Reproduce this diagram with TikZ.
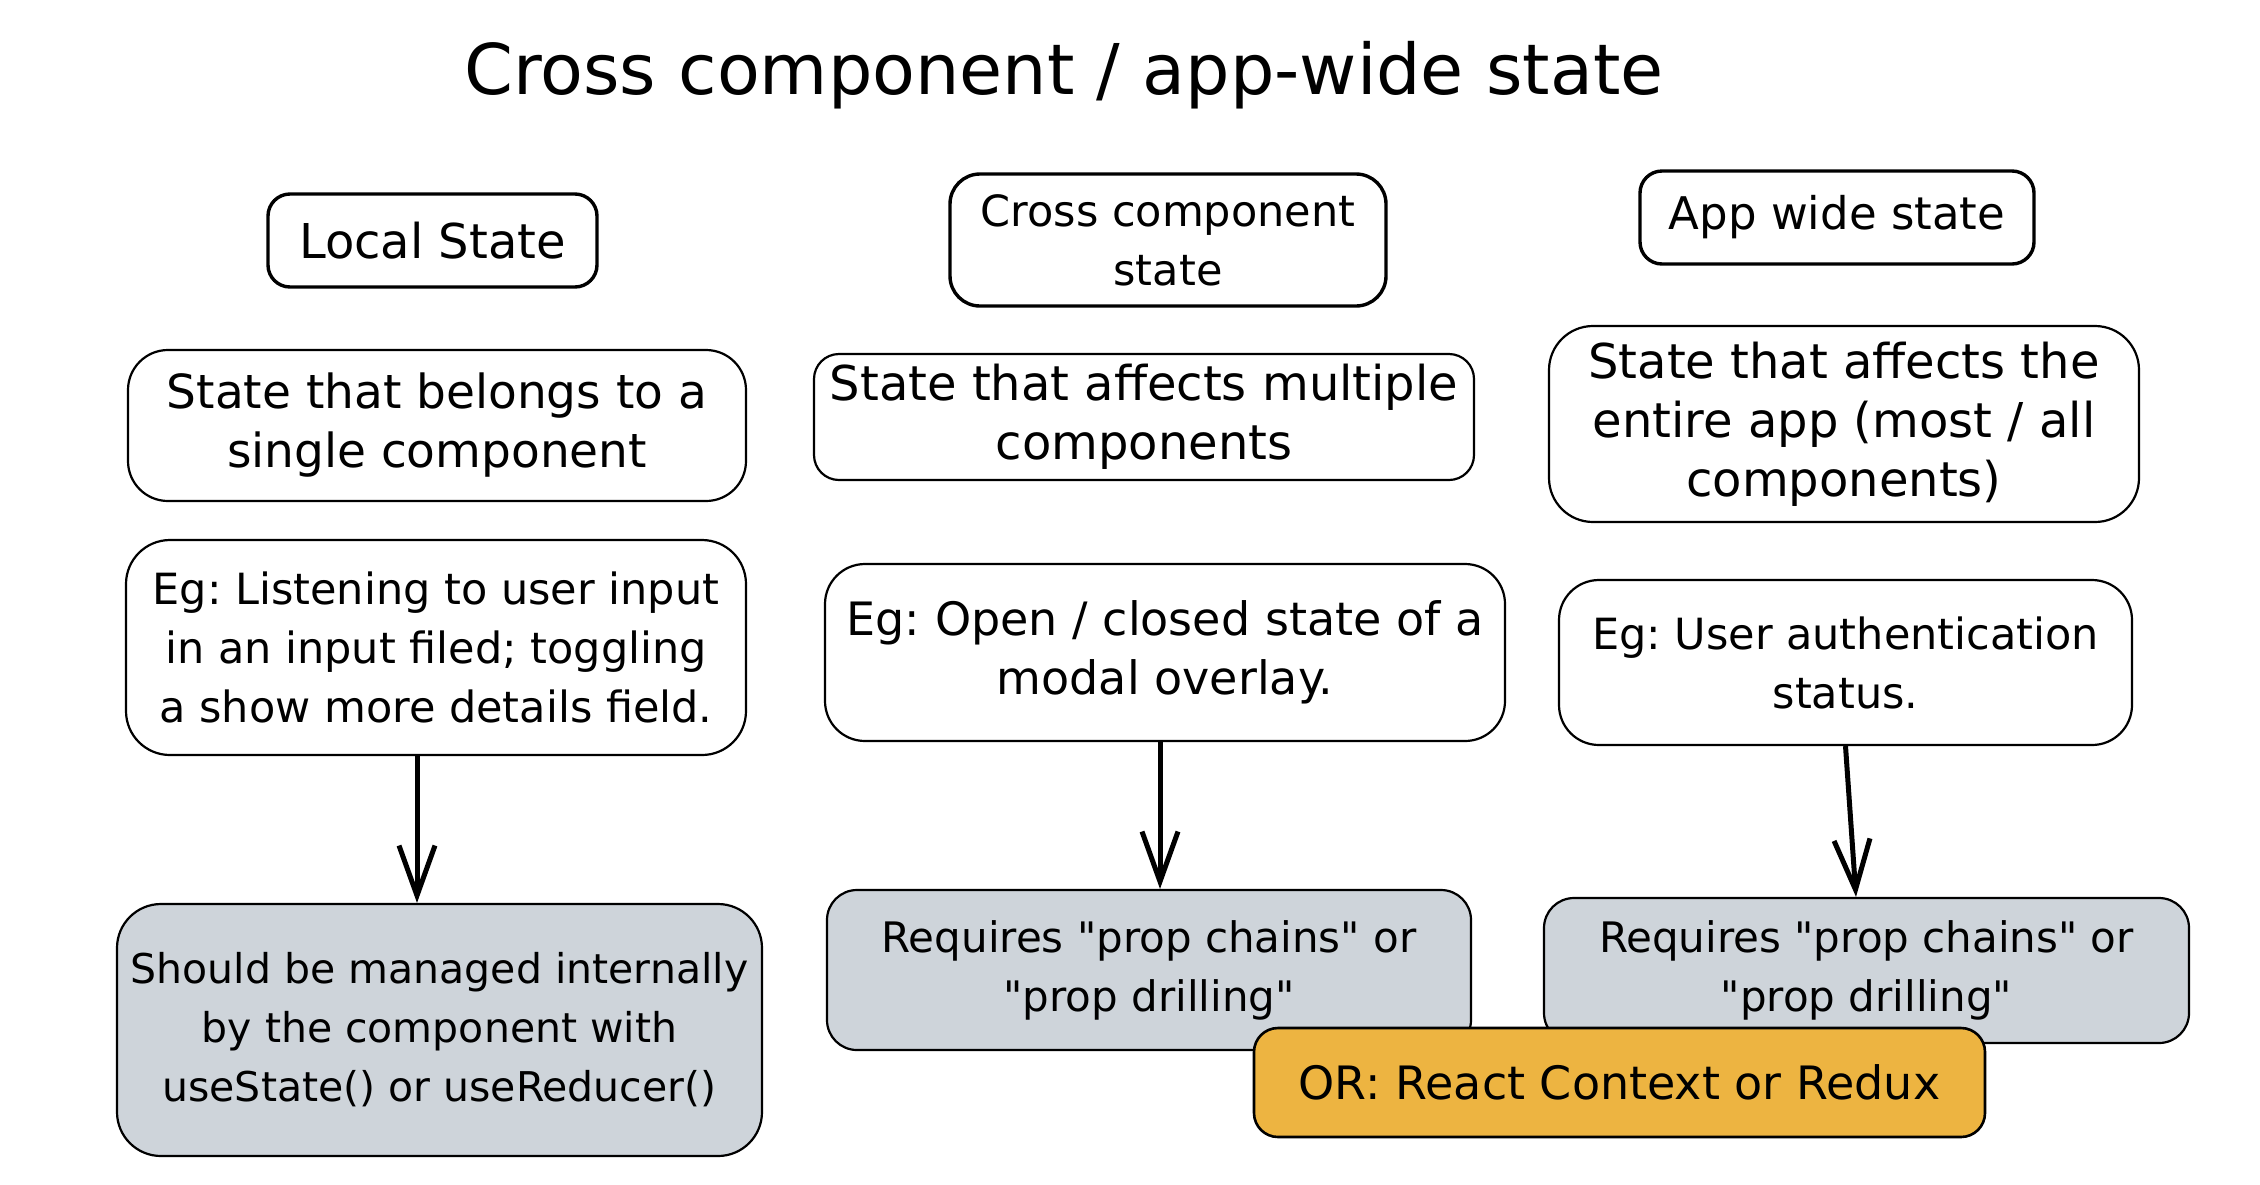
\documentclass[tikz,border=0pt]{standalone}
\usepackage{fontspec}
\setmainfont{DejaVu Sans}
\usetikzlibrary{arrows.meta}
\definecolor{boxgray}{HTML}{CED4DA}
\definecolor{boxorange}{HTML}{EDB441}
\newcommand{\qq}{\textquotedbl}
\frenchspacing
\begin{document}
\begin{tikzpicture}[x=0.5pt,y=-0.5pt,
  txtsize/.style={font=\fontsize{#1}{29.5}\selectfont},
  box/.style={draw=black, line width=1.1pt, fill=white, align=center, inner sep=0pt, txtsize=21},
  headbox/.style={box, line width=1.7pt},
  graybox/.style={box, fill=boxgray},
  orangebox/.style={box, fill=boxorange, line width=1.3pt},
  arr/.style={line width=2.5pt, -{Straight Barb[length=25pt,width=18pt]}}]
\fill[white] (0,0) rectangle (2260,1184);
\useasboundingbox (0,0) rectangle (2260,1184);

% title
\node[anchor=base, font=\fontsize{35}{40}\selectfont] (title) at (1064,94) {Cross component / app-wide state};

% row 1
\node[headbox, txtsize=24, rounded corners=11pt, minimum width=164.5pt, minimum height=46.5pt] (L1) at (432.5,240.5) {Local State};
\node[headbox, txtsize=21.5, rounded corners=15pt, minimum width=218pt, minimum height=66pt] (C1) at (1168,240) {Cross component\\state};
\node[headbox, txtsize=22.5, rounded corners=11pt, minimum width=197pt, minimum height=46.5pt] (R1) at (1837,217.5) {App wide state};

% row 2
\node[box, txtsize=23.5, rounded corners=20pt, minimum width=309pt, minimum height=75.5pt] (L2) at (437,425.5) {State that belongs to a\\single component};
\node[box, txtsize=24, rounded corners=12.5pt, minimum width=330pt, minimum height=63pt] (C2) at (1144,417) {State that affects multiple\\components};
\node[box, txtsize=24, rounded corners=22pt, minimum width=295pt, minimum height=98pt] (R2) at (1844,424) {State that affects the\\entire app (most / all\\components)};

% row 3
\node[box, txtsize=21.5, rounded corners=22pt, minimum width=310pt, minimum height=107.5pt] (L3) at (436,647.5) {Eg: Listening to user input\\in an input filed; toggling\\a show more details field.};
\node[box, txtsize=23, rounded corners=20pt, minimum width=340pt, minimum height=88.5pt] (C3) at (1165,652.5) {Eg: Open / closed state of a\\modal overlay.};
\node[box, txtsize=21.5, rounded corners=20pt, minimum width=286.5pt, minimum height=82.5pt] (R3) at (1845.5,662.5) {Eg: User authentication\\status.};

% row 4
\node[graybox, txtsize=20.5, rounded corners=22pt, minimum width=322.5pt, minimum height=126pt] (L4) at (439.5,1030) {Should be managed internally\\by the component with\\useState() or useReducer()};
\node[graybox, rounded corners=15pt, minimum width=322pt, minimum height=80pt] (C4) at (1149,970) {Requires \qq prop chains\qq{} or\\\qq prop drilling\qq};
\node[graybox, rounded corners=15pt, minimum width=322.5pt, minimum height=72.5pt] (R4) at (1866.5,970.5) {Requires \qq prop chains\qq{} or\\\qq prop drilling\qq};
\node[orangebox, txtsize=23, rounded corners=12pt, minimum width=365.5pt, minimum height=54.5pt] (OR) at (1619.5,1082.5) {OR: React Context or Redux};

% arrows
\draw[arr] ([xshift=-9.5pt]L3.south) -- ([xshift=-9.5pt]L3.south |- L4.north);
\draw[arr] ([xshift=-2.5pt]C3.south) -- ([xshift=-2.5pt]C3.south |- C4.north);
\draw[arr] (R3.south) -- ([xshift=-5.25pt]R4.north);
\end{tikzpicture}
\end{document}
